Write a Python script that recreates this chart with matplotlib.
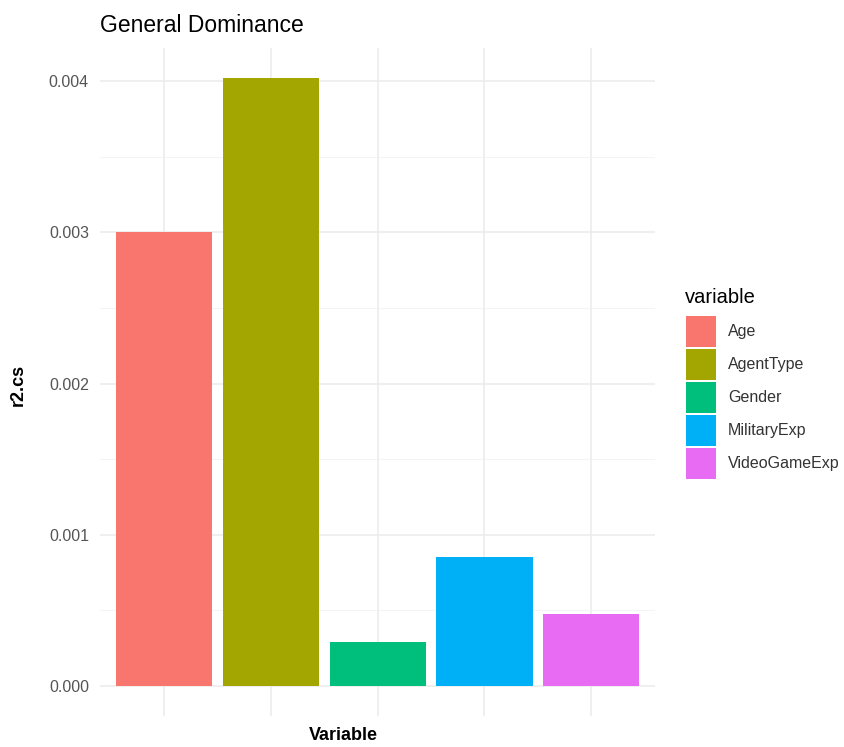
import numpy as np
import matplotlib.pyplot as plt
from matplotlib.patches import Patch

plt.rcParams['font.family'] = ['Liberation Sans', 'DejaVu Sans']

variables = ["Age", "AgentType", "Gender", "MilitaryExp", "VideoGameExp"]
r2cs = [0.00300, 0.00402, 0.00029, 0.000853, 0.000476]
colors = ["#F8766D", "#A3A500", "#00BF7D", "#00B0F6", "#E76BF3"]
yticks = [0.000, 0.001, 0.002, 0.003, 0.004]

W, H = 844, 747
fig = plt.figure(figsize=(W / 100, H / 100), dpi=100)
ax = fig.add_axes([0.1185, 0.0415, 0.658, 0.8942])

x = np.arange(1, len(variables) + 1)
ax.bar(x, r2cs, width=0.9, color=colors, zorder=2)

ymax = max(r2cs)
pad = ymax * 0.05
ax.set_ylim(-pad, ymax + pad)
ax.set_xlim(0.4, len(variables) + 0.6)

# ggplot theme_minimal look
ax.set_yticks(yticks)
ax.set_yticklabels([f"{v:.3f}" for v in yticks])
ax.set_yticks(np.arange(0.0005, 0.004, 0.001), minor=True)
ax.set_xticks(x)
ax.set_xticklabels([])
ax.grid(which='major', color='#EBEBEB', linewidth=1.1, zorder=0)
ax.grid(which='minor', axis='y', color='#F2F2F2', linewidth=0.6, zorder=0)
ax.tick_params(which='both', length=0, labelsize=11.5, labelcolor='#555555', pad=8)
for s in ax.spines.values():
    s.set_visible(False)

fig.text(100 / W, 1 - 25 / H, "General Dominance", fontsize=16.5, ha='left', va='center')
fig.text(18 / W, 1 - 385 / H, "r2.cs", fontsize=13, fontweight='bold', rotation=90, ha='center', va='center')
fig.text(343 / W, 1 - 735 / H, "Variable", fontsize=13, fontweight='bold', ha='center', va='center')

# legend: title placed separately to get the ggplot spacing
fig.text(685 / W, 1 - 297 / H, "variable", fontsize=14.5, ha='left', va='center')
handles = [Patch(facecolor=c, edgecolor='none') for c in colors]
leg = fig.legend(handles, variables, loc='upper left',
                 bbox_to_anchor=(686 / W, 1 - 316 / H), frameon=False, fontsize=11.5,
                 handlelength=1.875, handleheight=2.6, labelspacing=0.125,
                 handletextpad=0.75, borderaxespad=0, borderpad=0)
for t in leg.get_texts():
    t.set_color('#333333')

fig.savefig("out.png", dpi=100)
